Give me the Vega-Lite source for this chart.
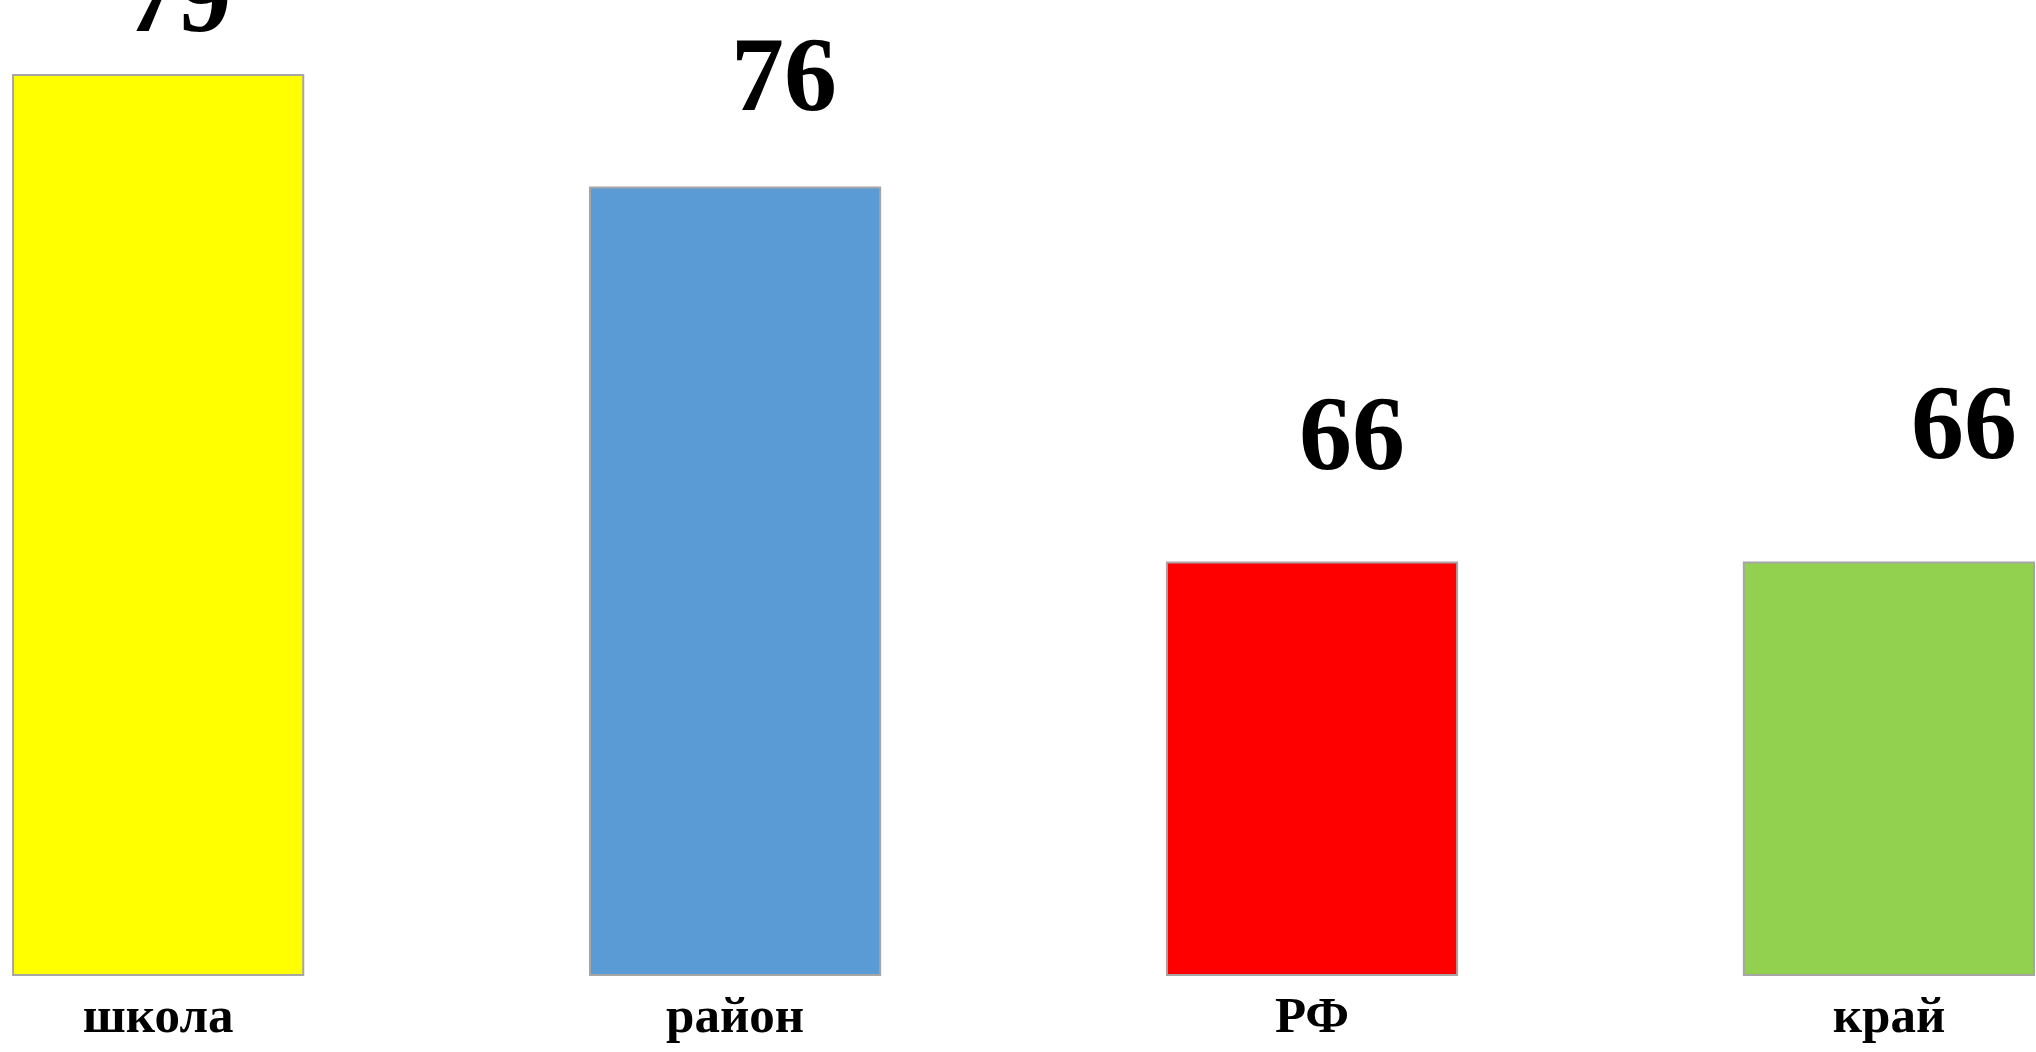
{
  "$schema": "https://vega.github.io/schema/vega-lite/v6.json",
  "autosize": {"type": "none"},
  "padding": {"left": 0, "top": 0, "right": 0, "bottom": 77},
  "width": 2036,
  "height": 975,
  "background": "white",
  "config": {"view": {"stroke": null}},
  "data": {
    "values": [
      {"category": "школа", "value": 79},
      {"category": "район", "value": 76},
      {"category": "РФ", "value": 66},
      {"category": "край", "value": 66}
    ]
  },
  "encoding": {
    "x": {
      "field": "category",
      "type": "nominal",
      "sort": null,
      "scale": {"paddingInner": 0.497, "paddingOuter": 0.013, "align": 0.87},
      "axis": {
        "title": null,
        "domain": false,
        "ticks": false,
        "tickSize": 0,
        "labelPadding": 16,
        "labelAngle": 0,
        "labelFont": "Liberation Serif",
        "labelFontWeight": "bold",
        "labelFontSize": 51,
        "labelColor": "#000000"
      }
    },
    "y": {
      "field": "value",
      "type": "quantitative",
      "scale": {"domain": [55, 81], "zero": false, "nice": false},
      "axis": null
    }
  },
  "layer": [
    {
      "mark": {"type": "bar", "stroke": "#a6a6a6", "strokeWidth": 2},
      "encoding": {
        "y2": {"datum": 55},
        "color": {
          "field": "category",
          "type": "nominal",
          "scale": {
            "domain": ["школа", "район", "РФ", "край"],
            "range": ["#FFFF00", "#5B9BD5", "#FF0000", "#92D050"]
          },
          "legend": null
        }
      }
    },
    {
      "transform": [{"filter": "datum.category == 'школа'"}],
      "mark": {"type": "text", "font": "Liberation Serif", "fontWeight": "bold", "fontSize": 106, "baseline": "alphabetic", "align": "center", "dx": 20, "dy": -44, "color": "#000000"},
      "encoding": {"text": {"field": "value", "type": "quantitative"}}
    },
    {
      "transform": [{"filter": "datum.category == 'район'"}],
      "mark": {"type": "text", "font": "Liberation Serif", "fontWeight": "bold", "fontSize": 106, "baseline": "alphabetic", "align": "center", "dx": 49, "dy": -78, "color": "#000000"},
      "encoding": {"text": {"field": "value", "type": "quantitative"}}
    },
    {
      "transform": [{"filter": "datum.category == 'РФ'"}],
      "mark": {"type": "text", "font": "Liberation Serif", "fontWeight": "bold", "fontSize": 106, "baseline": "alphabetic", "align": "center", "dx": 40, "dy": -94, "color": "#000000"},
      "encoding": {"text": {"field": "value", "type": "quantitative"}}
    },
    {
      "transform": [{"filter": "datum.category == 'край'"}],
      "mark": {"type": "text", "font": "Liberation Serif", "fontWeight": "bold", "fontSize": 106, "baseline": "alphabetic", "align": "center", "dx": 75, "dy": -105, "color": "#000000"},
      "encoding": {"text": {"field": "value", "type": "quantitative"}}
    }
  ]
}
